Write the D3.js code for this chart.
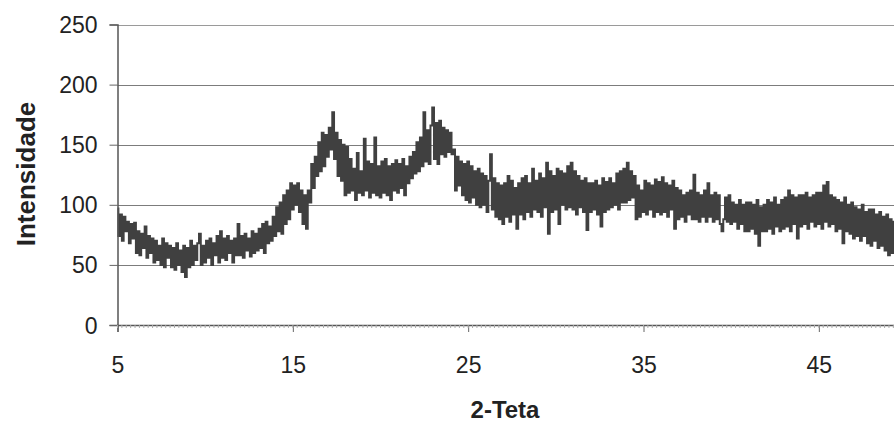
<!DOCTYPE html>
<html>
<head>
<meta charset="utf-8">
<script src="https://cdn.jsdelivr.net/npm/d3@7"></script>
<style>
	body { margin: 0; background: #fff; }
	svg { display: block; font-family: 'Liberation Sans', Arial, sans-serif; }
</style>
</head>
<body>
<div id="chart"></div>
<script>
/**
 * Data: intensity every 0.1 degree of 2-theta, from 5 to 50
 * */
const twoThetaStart = 5
const twoThetaStep = 0.1

const intensity = [
	97, 74, 92, 70, 90, 78, 86, 68, 84, 72,
	85, 60, 78, 58, 76, 64, 82, 56, 74, 60,
	72, 52, 70, 54, 66, 50, 72, 48, 68, 56,
	66, 48, 64, 46, 68, 50, 62, 44, 66, 40,
	64, 48, 70, 50, 66, 54, 68, 76, 50, 66,
	52, 70, 56, 72, 50, 68, 58, 74, 52, 78,
	56, 72, 54, 74, 60, 70, 52, 72, 58, 84,
	58, 74, 56, 76, 62, 72, 57, 78, 60, 76,
	62, 80, 64, 84, 60, 86, 68, 82, 70, 90,
	74, 98, 78, 102, 76, 108, 84, 112, 88, 118,
	96, 116, 100, 118, 94, 112, 84, 108, 80, 112,
	102, 134, 114, 140, 124, 152, 128, 160, 132, 158,
	140, 164, 146, 177, 138, 160, 124, 154, 120, 150,
	108, 148, 110, 138, 112, 130, 104, 143, 110, 128,
	108, 155, 112, 136, 106, 134, 110, 156, 108, 132,
	106, 136, 110, 138, 108, 132, 104, 134, 112, 137,
	110, 134, 114, 138, 108, 132, 118, 140, 122, 144,
	126, 152, 128, 156, 132, 177, 136, 162, 134, 166,
	181, 138, 168, 134, 170, 142, 164, 140, 162, 144,
	160, 142, 146, 112, 140, 116, 136, 108, 134, 104,
	136, 102, 132, 106, 128, 100, 130, 98, 126, 100,
	124, 94, 120, 142, 96, 122, 90, 118, 88, 116,
	84, 118, 90, 124, 86, 120, 92, 114, 80, 118,
	92, 122, 88, 124, 94, 118, 90, 130, 96, 120,
	94, 126, 90, 122, 98, 135, 76, 128, 94, 124,
	96, 130, 84, 128, 100, 126, 96, 132, 98, 135,
	96, 128, 92, 124, 98, 120, 94, 122, 79, 118,
	94, 118, 96, 120, 92, 116, 82, 122, 94, 119,
	96, 122, 98, 118, 100, 126, 96, 128, 102, 130,
	102, 135, 104, 128, 106, 124, 88, 116, 90, 112,
	94, 120, 92, 118, 96, 116, 90, 121, 94, 119,
	92, 123, 94, 118, 90, 116, 96, 120, 80, 114,
	88, 112, 90, 108, 86, 110, 92, 112, 88, 125,
	88, 110, 86, 108, 90, 112, 86, 118, 90, 108,
	86, 110, 88, 108, 84, 78, 88, 106, 86, 108,
	84, 102, 86, 100, 80, 104, 84, 100, 78, 102,
	78, 102, 80, 100, 76, 104, 66, 98, 78, 100,
	78, 104, 80, 102, 76, 106, 82, 100, 78, 104,
	80, 106, 82, 112, 78, 108, 84, 106, 72, 108,
	82, 108, 84, 110, 80, 106, 86, 108, 82, 110,
	84, 110, 80, 116, 86, 119, 82, 108, 84, 106,
	78, 104, 80, 102, 68, 106, 78, 100, 76, 102,
	72, 98, 74, 96, 70, 100, 74, 94, 68, 96,
	66, 96, 70, 92, 64, 94, 66, 90, 62, 92,
	58, 88, 60, 86, 56, 88, 54, 84, 55, 85,
	53
]

const xTicks = [5, 15, 25, 35, 45]
const yTicks = [0, 50, 100, 150, 200, 250]

const xTitle = '2-Teta'
const yTitle = 'Intensidade'

// pair every reading with its angle
const points = intensity.map((v, i) => ({x: twoThetaStart + i * twoThetaStep, y: v}))


/**
 * Layout
 * */
const width = 894
const height = 424

const plotLeft = 117.5
const plotTop = 24.5
const plotBottom = 325
const plotRight = 906.5 // the scan cuts the plot off on the right, so this runs past the edge

const x = d3.scaleLinear()
	.domain([5, 50])
	.range([plotLeft, plotRight])

const y = d3.scaleLinear()
	.domain([0, 250])
	.range([plotBottom, plotTop])

const $svg = d3.select('#chart')
	.append('svg')
	.attr('width', width)
	.attr('height', height)

// horizontal gridlines
$svg.append('g')
	.selectAll('line')
	.data(yTicks.filter(d => d > 0))
	.join('line')
		.attr('x1', plotLeft)
		.attr('x2', width)
		.attr('y1', d => Math.round(y(d)) + 0.5)
		.attr('y2', d => Math.round(y(d)) + 0.5)
		.attr('stroke', d => d === 250 ? '#9a9a9a' : '#7c7c7c')
		.attr('stroke-width', 1)

// the noisy trace - stepped, like the scanned plot, so the noise reads as a dark band of spikes
const line = d3.line()
	.curve(d3.curveStep)
	.x(d => x(d.x))
	.y(d => y(d.y))

$svg.append('path')
	.datum(points)
	.attr('d', line)
	.attr('fill', 'none')
	.attr('stroke', '#404040')
	.attr('stroke-width', 2)


/**
 * Axes
 * */
const $yAxis = $svg.append('g')
	.attr('transform', `translate(${plotLeft},0)`)
	.call(d3.axisLeft(y).tickValues(yTicks).tickSize(8).tickPadding(12))

const $xAxis = $svg.append('g')
	.attr('transform', `translate(0,${plotBottom})`)
	.call(d3.axisBottom(x).tickValues(xTicks).tickSize(7).tickPadding(25))

// faint scanned-looking ticks between categories under the axis
$svg.append('g')
	.selectAll('line')
	.data(d3.range(5, 50.01, 0.25))
	.join('line')
		.attr('x1', d => x(d))
		.attr('x2', d => x(d))
		.attr('y1', plotBottom)
		.attr('y2', plotBottom + 3)
		.attr('stroke', '#aaa')
		.attr('stroke-width', 1)

const styleAxis = $axis => {
	$axis.select('.domain').attr('stroke', '#555').attr('stroke-width', 1.5)
	$axis.selectAll('.tick line').attr('stroke', '#666')
	$axis.selectAll('.tick text')
		.attr('fill', '#222')
		.style('font-size', '23px')
		.style('font-family', "'Liberation Sans', Arial, sans-serif")
}

styleAxis($yAxis)
styleAxis($xAxis)

// y labels sit centred on their gridlines
$yAxis.selectAll('.tick text').attr('dy', '0.35em')


/**
 * Titles
 * */
$svg.append('text')
	.attr('x', 505)
	.attr('y', 418)
	.attr('text-anchor', 'middle')
	.attr('fill', '#222')
	.style('font-size', '24px')
	.style('font-weight', 'bold')
	.text(xTitle)

$svg.append('text')
	.attr('transform', `translate(35,174) rotate(-90)`)
	.attr('text-anchor', 'middle')
	.attr('fill', '#222')
	.style('font-size', '26px')
	.style('font-weight', 'bold')
	.text(yTitle)
</script>
</body>
</html>
